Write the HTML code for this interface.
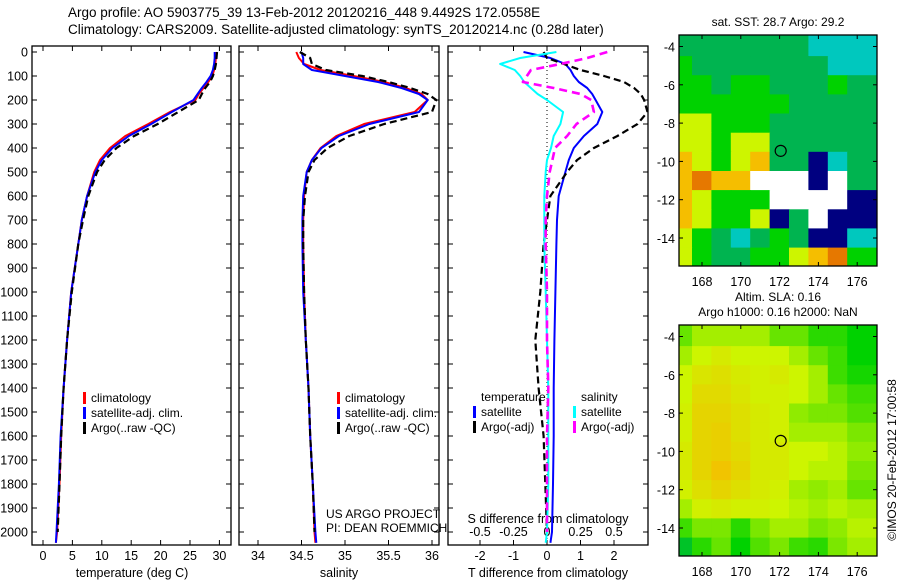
<!DOCTYPE html>
<html><head><meta charset="utf-8"><style>
body{margin:0;background:#fff}
svg{display:block;font-family:"Liberation Sans",sans-serif}
text{fill:#000}
</style></head><body>
<svg id="fig" width="900" height="580" viewBox="0 0 900 580">
<text x="68" y="17" font-size="13.5">Argo profile: AO 5903775_39 13-Feb-2012 20120216_448 9.4492S 172.0558E</text>
<text x="68" y="34" font-size="13.5">Climatology: CARS2009. Satellite-adjusted climatology: synTS_20120214.nc (0.28d later)</text>
<g id="g"></g>
</svg>
<script>
const depths=[0,25,50,75,100,125,150,175,200,250,300,350,400,450,500,600,700,800,1000,1200,1400,1600,1800,2000,2045];
const tempClim=[29.4,29.4,29.3,29.1,28.8,28.1,27.3,26.5,25.9,21.6,17.9,14.0,11.4,9.7,8.7,7.5,6.6,6.0,4.8,4.1,3.5,3.1,2.8,2.4,2.2];
const tempSat=[29.2,29.2,29.1,28.9,28.5,27.8,27.0,26.3,25.6,21.9,18.4,14.6,11.8,10.0,8.9,7.5,6.6,6.0,4.8,4.1,3.5,3.0,2.7,2.3,2.2];
const tempArgo=[29.6,29.5,29.4,29.2,28.9,28.4,27.6,27.0,26.5,23.0,19.5,15.5,12.5,10.5,9.2,7.7,6.8,6.0,4.9,4.1,3.5,3.1,2.8,2.5,null];
const salClim=[34.44,34.47,34.53,34.72,35.1,35.45,35.7,35.88,35.95,35.8,35.22,34.9,34.72,34.62,34.56,34.53,34.52,34.52,34.53,34.55,34.58,34.6,34.63,34.65,34.66];
const salSat=[34.5,34.52,34.52,34.62,35.0,35.38,35.65,35.85,35.95,35.85,35.28,34.93,34.73,34.62,34.56,34.52,34.51,34.51,34.52,34.55,34.58,34.6,34.63,34.66,34.67];
const salArgo=[34.48,34.6,34.62,34.78,35.2,35.5,35.75,35.95,36.05,36.0,35.45,35.05,34.8,34.65,34.58,34.54,34.52,34.52,34.53,34.55,34.58,34.6,34.63,34.65,null];
const tDiffSat=[-0.7,0.1,0.55,0.7,0.8,0.95,1.2,1.35,1.45,1.65,1.5,1.1,0.8,0.65,0.55,0.35,0.3,0.28,0.25,0.22,0.2,0.2,0.18,0.15,0.1];
const tDiffArgo=[-0.1,0.0,0.5,1.0,1.7,2.3,2.6,2.8,2.9,3.0,2.7,2.1,1.4,0.9,0.6,0.1,0.0,-0.1,-0.2,-0.35,-0.25,-0.1,-0.05,0,null];
const sDiffSat=[0.07,-0.2,-0.35,-0.24,-0.2,-0.17,-0.12,-0.07,0.0,0.12,0.1,0.05,0.03,0.0,-0.01,-0.02,-0.02,-0.02,-0.01,0,0.01,0.01,0.01,0.0,-0.01];
const sDiffArgo=[0.45,0.3,0.1,-0.12,-0.15,-0.18,0.05,0.25,0.33,0.35,0.22,0.15,0.06,0.04,0.02,0.0,-0.01,-0.01,0.0,0,0.01,0.0,0.0,0.0,null];
const depthTicks=[0,100,200,300,400,500,600,700,800,900,1000,1100,1200,1300,1400,1500,1600,1700,1800,1900,2000];
const tempTicks=[0,5,10,15,20,25,30];
const salTicks=[34,34.5,35,35.5,36];
const salTickLabels=["34","34.5","35","35.5","36"];
const tDiffTicks=[-2,-1,0,1,2];
const sDiffTicks=[-0.5,-0.25,0,0.25,0.5];
const sDiffTickLabels=["-0.5","-0.25","0","0.25","0.5"];
const lonTicks=[168,170,172,174,176];
const latTicks=[-4,-6,-8,-10,-12,-14];
const argoLon=172.0558, argoLat=-9.4492;
const sstGrid=[
"1111111000","2111111100","2212211121","2222221111","3322211111","3323311111",
"4323411n01","4544wwwnw1","43222wwwwn","43223n1wnn","3210121nn0","3211223452"];
const slaGrid=[
[2.5,2.8,2.8,2.8,2.8,2.5,2.5,2.2,2.2,2.0],[2.8,3.0,3.2,3.0,3.0,3.0,2.8,2.5,2.3,2.0],
[3.0,3.3,3.4,3.2,3.1,3.2,3.0,2.8,2.3,2.1],[3.0,3.5,3.5,3.3,3.1,3.1,3.0,2.8,2.5,2.3],
[3.1,3.6,3.6,3.4,3.2,3.1,2.7,2.6,2.6,2.4],[3.1,3.6,3.7,3.4,3.2,3.1,2.8,2.8,2.8,2.6],
[3.2,3.6,3.7,3.5,3.2,3.2,3.0,3.0,2.9,2.7],[3.2,3.6,3.9,3.6,3.2,3.2,3.0,2.9,2.9,2.6],
[3.1,3.4,3.6,3.4,3.2,3.1,2.8,2.7,2.8,2.5],[2.8,3.1,3.2,3.1,3.1,3.0,2.9,2.8,2.9,2.8],
[2.3,2.6,2.6,2.2,2.6,2.8,2.8,2.6,2.7,2.9],[1.5,2.2,2.5,2.0,2.4,2.6,2.3,2.2,2.6,2.8]];

const NS='http://www.w3.org/2000/svg';
const G=document.getElementById('g');
function mk(tag,attrs,parent){const e=document.createElementNS(NS,tag);for(const k in attrs)e.setAttribute(k,attrs[k]);(parent||G).appendChild(e);return e;}
function txt(x,y,s,size,anchor,parent){const t=mk('text',{x:x,y:y,'font-size':size,'text-anchor':anchor||'middle'},parent);t.textContent=s;return t;}
const yD=d=>52+d*0.24;
const xT=v=>43+v*5.88;
const xS=v=>258+(v-34)*87;
const xTD=v=>547+v*33.5;
const xSD=v=>547+v*134;
const P1={l:32,r:231},P2={l:239,r:439},P3={l:448,r:648};
const TOP=46,BOT=545;

function frame(P,name){
  const r=mk('rect',{x:P.l,y:TOP,width:P.r-P.l,height:BOT-TOP,fill:'none',stroke:'#000','stroke-width':1.3});
  
  
  depthTicks.forEach(d=>{mk('line',{x1:P.l,x2:P.l+5,y1:yD(d),y2:yD(d),stroke:'#000'});mk('line',{x1:P.r-5,x2:P.r,y1:yD(d),y2:yD(d),stroke:'#000'});});
}
function xticks(fn,ticks,labels,y,name){
  ticks.forEach((t,i)=>{const x=fn(t);
    mk('line',{x1:x,x2:x,y1:BOT-5,y2:BOT,stroke:'#000'});
    mk('line',{x1:x,x2:x,y1:TOP,y2:TOP+5,stroke:'#000'});
    const e=txt(x,y,labels?labels[i]:String(t),12.5);
    
    });
}
function line(fx,vals,color,w,dash,name){
  let d='',pen=false;
  vals.forEach((v,i)=>{if(v===null){pen=false;return;}const x=fx(v);d+=(pen?'L':'M')+x.toFixed(1)+','+yD(depths[i]).toFixed(1);pen=true;});
  const p=mk('path',{d:d,fill:'none',stroke:color,'stroke-width':w,'stroke-dasharray':dash||'none','stroke-linejoin':'round'});
  
  
  return p;
}
const defs=mk('defs',{});
[[P1,'c1'],[P2,'c2'],[P3,'c3']].forEach(([P,id])=>{const c=mk('clipPath',{id:id},defs);mk('rect',{x:P.l,y:TOP,width:P.r-P.l,height:BOT-TOP},c);});

depthTicks.forEach(d=>{const e=txt(28,yD(d)+4.5,String(d),12.5,'end');
  
  });

frame(P1,'temperature-panel');
xticks(xT,tempTicks,null,560,'temperature-tick-label');
txt(132,577,'temperature (deg C)',12.5);
const g1=mk('g',{'clip-path':'url(#c1)'});
[[tempClim,'#f00',2,null,'temp-climatology-line'],[tempSat,'#00f',2,null,'temp-satellite-line'],[tempArgo,'#000',2.2,'7,4','temp-argo-line']].forEach(a=>{g1.appendChild(line(xT,a[0],a[1],a[2],a[3],a[4]));});
function legend(x,y,items,name){
  const lg=mk('g',{});
  
  
  items.forEach((it,i)=>{mk('rect',{x:x,y:y+i*15-10,width:3,height:12,fill:it[1]},lg);txt(x+8,y+i*15,it[0],12,'start',lg);});
}
legend(83,402,[['climatology','#f00'],['satellite-adj. clim.','#00f'],['Argo(..raw -QC)','#000']],'temperature-legend');

frame(P2,'salinity-panel');
xticks(xS,salTicks,salTickLabels,560,'salinity-tick-label');
txt(339,577,'salinity',12.5);
const g2=mk('g',{'clip-path':'url(#c2)'});
[[salClim,'#f00',2,null,'sal-climatology-line'],[salSat,'#00f',2,null,'sal-satellite-line'],[salArgo,'#000',2.2,'7,4','sal-argo-line']].forEach(a=>{g2.appendChild(line(xS,a[0],a[1],a[2],a[3],a[4]));});
legend(337,402,[['climatology','#f00'],['satellite-adj. clim.','#00f'],['Argo(..raw -QC)','#000']],'salinity-legend');
txt(326,518,'US ARGO PROJECT',12,'start');
txt(326,532,'PI: DEAN ROEMMICH',12,'start');

frame(P3,'difference-panel');
mk('line',{x1:547,x2:547,y1:TOP,y2:BOT,stroke:'#000','stroke-dasharray':'1,3'});
xticks(xTD,tDiffTicks,null,560,'t-diff-tick-label');
sDiffTicks.forEach((t,i)=>{const e=txt(xSD(t),536,sDiffTickLabels[i],12.5);
  
  });
txt(548,523,'S difference from climatology',12.5);
txt(548,577,'T difference from climatology',12.5);
const g3=mk('g',{'clip-path':'url(#c3)'});
[[xTD,tDiffSat,'#00f',2,null,'t-diff-satellite-line'],[xTD,tDiffArgo,'#000',2.2,'7,4','t-diff-argo-line'],[xSD,sDiffSat,'#0ff',2,null,'s-diff-satellite-line'],[xSD,sDiffArgo,'#f0f',2.6,'8,5','s-diff-argo-line']].forEach(a=>{g3.appendChild(line(a[0],a[1],a[2],a[3],a[4],a[5]));});
txt(481,401,'temperature',12,'start');
txt(581,401,'salinity',12,'start');
legend(473,416,[['satellite','#00f'],['Argo(-adj)','#000']],'t-diff-legend');
legend(573,416,[['satellite','#0ff'],['Argo(-adj)','#f0f']],'s-diff-legend');

const M1={l:679,r:877,t:35,b:266},M2={l:679,r:877,t:325,b:556};
const xLon=(M,v)=>682.6+(v-167)*19.4;
const yLat=(M,v)=>M.t+11.5+(-4-v)*19.15;
const stops=[[0,[0,200,190]],[1,[0,180,80]],[2,[0,210,0]],[3,[205,245,0]],[4,[245,190,0]],[5,[230,120,0]]];
function cmap(v){v=Math.max(0,Math.min(5,v));const i=Math.min(4,Math.floor(v)),f=v-i;const a=stops[i][1],b=stops[i+1][1];return 'rgb('+a.map((c,k)=>Math.round(c+(b[k]-c)*f)).join(',')+')';}
function map(M,grid,name,clip){
  const c=mk('clipPath',{id:clip},defs);mk('rect',{x:M.l,y:M.t,width:M.r-M.l,height:M.b-M.t},c);
  const g=mk('g',{'clip-path':'url(#'+clip+')'});
  
  
  grid.forEach((row,r)=>{for(let ci=0;ci<10;ci++){const v=row[ci];
    let col;if(v==='w')col='#fff';else if(v==='n')col='#000080';else col=cmap(+v);
    const x0=xLon(M,167+ci)-10,x1=xLon(M,168+ci)-10+(ci==9?20:0);
    const y0=yLat(M,-3.5-r),y1=yLat(M,-4.5-r)+(r==11?10:0);
    const cell=mk('rect',{x:(ci==0?M.l:x0).toFixed(1),y:(r==0?M.t:y0).toFixed(1),width:(x1-(ci==0?M.l:x0)+0.6).toFixed(1),height:(y1-(r==0?M.t:y0)+0.6).toFixed(1),fill:col},g);
    
    }});
  mk('rect',{x:M.l,y:M.t,width:M.r-M.l,height:M.b-M.t,fill:'none',stroke:'#000','stroke-width':1.3});
  lonTicks.forEach(t=>{const x=xLon(M,t);mk('line',{x1:x,x2:x,y1:M.b-4,y2:M.b,stroke:'#000'});mk('line',{x1:x,x2:x,y1:M.t,y2:M.t+4,stroke:'#000'});
    const e=txt(x,M.b+20,String(t),12.5);});
  latTicks.forEach(t=>{const y=yLat(M,t);mk('line',{x1:M.l,x2:M.l+4,y1:y,y2:y,stroke:'#000'});mk('line',{x1:M.r-4,x2:M.r,y1:y,y2:y,stroke:'#000'});
    const e=txt(M.l-4,y+5,String(t),12.5,'end');});
  const m=mk('circle',{cx:xLon(M,argoLon),cy:yLat(M,argoLat),r:5.5,fill:'none',stroke:'#000','stroke-width':1.2});
  
  
}
map(M1,sstGrid,'sst-map','cm1');
map(M2,slaGrid,'sla-map','cm2');
txt(778,26,'sat. SST: 28.7 Argo: 29.2',12);
txt(778,301,'Altim. SLA: 0.16',12);
txt(778,316,'Argo h1000: 0.16 h2000: NaN',12);
const cp=txt(0,0,'©IMOS 20-Feb-2012 17:00:58',12);
cp.setAttribute('transform','translate(896,460) rotate(-90)');


</script>
</body></html>
